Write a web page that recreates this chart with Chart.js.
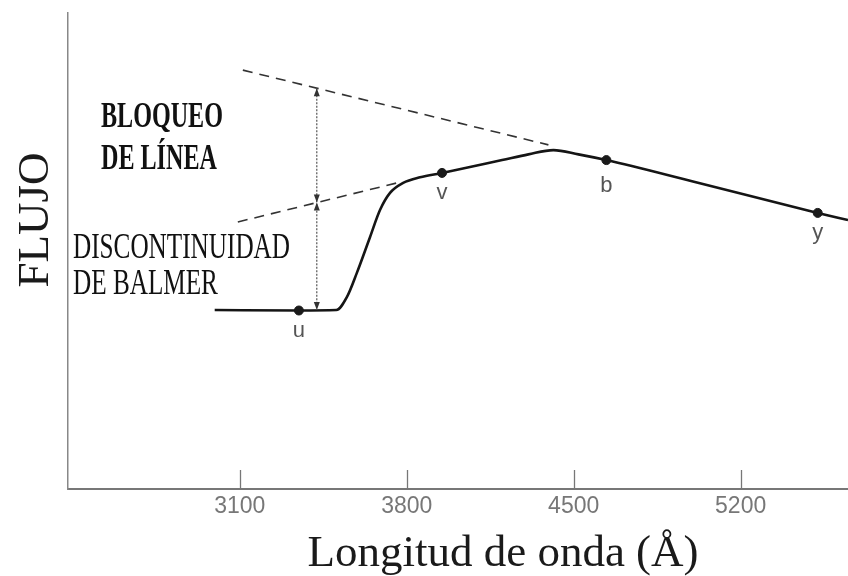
<!DOCTYPE html>
<html>
<head>
<meta charset="utf-8">
<title>Bloqueo de línea y discontinuidad de Balmer</title>
<script src="https://cdn.jsdelivr.net/npm/chart.js@4.4.1/dist/chart.umd.min.js"></script>
<style>
  html, body { margin: 0; padding: 0; background: #fff; }
</style>
</head>
<body>
<canvas id="spectrum" width="848" height="576"></canvas>
<script>
// Espectro esquemático: longitud de onda (Å) contra flujo relativo
const wavelengths = [2995, 3348, 3505, 3549, 3591, 3646, 3688, 3730, 3785, 3856, 3948, 4200, 4310, 4415, 4520, 4637, 5000, 5523, 5650];
const flux        = [0.376, 0.375, 0.376, 0.403, 0.454, 0.529, 0.586, 0.622, 0.643, 0.655, 0.664, 0.691, 0.703, 0.712, 0.703, 0.691, 0.646, 0.580, 0.565];

// Filtros de Strömgren marcados sobre la curva
const filterNames = ['u', 'v', 'b', 'y'];
const filterWave  = [3348, 3948, 4637, 5523];
const filterFlux  = [0.375, 0.664, 0.691, 0.580];

// Continuo extrapolado (líneas discontinuas)
const blockingWave = [3113, 4394];
const blockingFlux = [0.880, 0.723];
const balmerWave   = [3092, 3759];
const balmerFlux   = [0.561, 0.643];

// Flechas de medida: continuo, continuo sin líneas, flujo bajo el salto
const arrowWave = 3423;
const arrowFlux = [0.842, 0.602, 0.376];

const tickValues = [3100, 3800, 4500, 5200];

const toPoints = (xs, ys) => xs.map((v, i) => ({ x: v, y: ys[i] }));

function condensedText(ctx, text, x, yBase, font, sx) {
    ctx.save();
    ctx.translate(x, yBase);
    ctx.scale(sx, 1);
    ctx.font = font;
    ctx.fillText(text, 0, 0);
    ctx.restore();
}

// Flechas, rótulos y títulos de los ejes
const figureText = {
    id: 'figureText',
    afterDraw(chart) {
        const { ctx, scales: { x, y } } = chart;

        // tick marks hacia dentro del eje x
        ctx.save();
        ctx.strokeStyle = '#777';
        ctx.lineWidth = 1.3;
        tickValues.forEach(v => {
            const px = Math.round(x.getPixelForValue(v)) + 0.5;
            ctx.beginPath();
            ctx.moveTo(px, y.bottom);
            ctx.lineTo(px, y.bottom - 19);
            ctx.stroke();
        });
        ctx.restore();

        // flechas verticales
        const ax = x.getPixelForValue(arrowWave);
        const [top, mid, bottom] = arrowFlux.map(v => y.getPixelForValue(v));
        ctx.save();
        ctx.strokeStyle = '#555';
        ctx.lineWidth = 1.2;
        ctx.setLineDash([2, 1.5]);
        ctx.beginPath();
        ctx.moveTo(ax, top);
        ctx.lineTo(ax, bottom);
        ctx.stroke();
        ctx.setLineDash([]);
        ctx.fillStyle = '#333';
        const head = (tip, dir) => {
            ctx.beginPath();
            ctx.moveTo(ax, tip);
            ctx.lineTo(ax - 3, tip - dir * 8);
            ctx.lineTo(ax + 3, tip - dir * 8);
            ctx.closePath();
            ctx.fill();
        };
        head(top, -1);
        head(mid, 1);
        head(mid, -1);
        head(bottom, 1);
        ctx.restore();

        // nombres de los filtros
        ctx.save();
        ctx.fillStyle = '#555';
        ctx.font = '22px "Liberation Sans", Arial, sans-serif';
        ctx.textAlign = 'center';
        ctx.textBaseline = 'alphabetic';
        filterNames.forEach((name, i) => {
            const dy = name === 'b' ? 32 : 26;
            ctx.fillText(name, x.getPixelForValue(filterWave[i]), y.getPixelForValue(filterFlux[i]) + dy);
        });
        ctx.restore();

        // rótulos de las dos zonas
        ctx.save();
        ctx.fillStyle = '#111';
        ctx.textAlign = 'left';
        ctx.textBaseline = 'alphabetic';
        const boldFont = 'bold 36px "Liberation Serif", "Times New Roman", serif';
        const plainFont = '35px "Liberation Serif", "Times New Roman", serif';
        condensedText(ctx, 'BLOQUEO', 101, 127, boldFont, 0.67);
        condensedText(ctx, 'DE LÍNEA', 101, 169, boldFont, 0.67);
        condensedText(ctx, 'DISCONTINUIDAD', 73, 258, plainFont, 0.72);
        condensedText(ctx, 'DE BALMER', 73, 294, plainFont, 0.72);
        ctx.restore();

        // títulos de los ejes
        ctx.save();
        ctx.fillStyle = '#1a1a1a';
        ctx.font = '45px "Liberation Serif", "Times New Roman", serif';
        ctx.textAlign = 'center';
        ctx.textBaseline = 'alphabetic';
        ctx.fillText('Longitud de onda (Å)', 503, 566);
        ctx.translate(48, 220);
        ctx.rotate(-Math.PI / 2);
        ctx.fillText('FLUJO', 0, 0);
        ctx.restore();
    }
};

const ctx = document.getElementById('spectrum').getContext('2d');
const spectrumChart = new Chart(ctx, {
    type: 'line',
    data: {
        datasets: [
            {
                label: 'filtros',
                data: toPoints(filterWave, filterFlux),
                showLine: false,
                pointRadius: 4.5,
                pointBackgroundColor: '#1a1a1a',
                pointBorderColor: '#1a1a1a',
                order: 0
            },
            {
                label: 'flujo',
                data: toPoints(wavelengths, flux),
                borderColor: '#151515',
                borderWidth: 2.6,
                pointRadius: 0,
                cubicInterpolationMode: 'monotone',
                order: 1
            },
            {
                label: 'bloqueo',
                data: toPoints(blockingWave, blockingFlux),
                borderColor: '#333',
                borderWidth: 1.6,
                borderDash: [10, 7],
                pointRadius: 0,
                order: 2
            },
            {
                label: 'balmer',
                data: toPoints(balmerWave, balmerFlux),
                borderColor: '#333',
                borderWidth: 1.6,
                borderDash: [10, 7],
                pointRadius: 0,
                order: 2
            }
        ]
    },
    options: {
        responsive: false,
        animation: false,
        layout: { autoPadding: false, padding: { top: 13, right: 0, left: 0, bottom: 0 } },
        plugins: {
            legend: { display: false },
            tooltip: { enabled: false }
        },
        scales: {
            x: {
                type: 'linear',
                min: 2380,
                max: 5650,
                afterBuildTicks: scale => {
                    scale.ticks = tickValues.map(v => ({ value: v }));
                },
                afterFit: scale => { scale.height = 87; },
                grid: { display: false, drawTicks: false },
                border: { display: true, color: '#777', width: 2 },
                ticks: {
                    padding: 4,
                    color: '#777',
                    font: { family: '"Liberation Sans", Arial, sans-serif', size: 23 },
                    maxRotation: 0,
                    callback: v => String(v)
                }
            },
            y: {
                min: 0,
                max: 1,
                afterFit: scale => { scale.width = 68; },
                grid: { display: false, drawTicks: false },
                border: { display: true, color: '#888', width: 1.5 },
                ticks: { display: false }
            }
        }
    },
    plugins: [figureText]
});
</script>
</body>
</html>
